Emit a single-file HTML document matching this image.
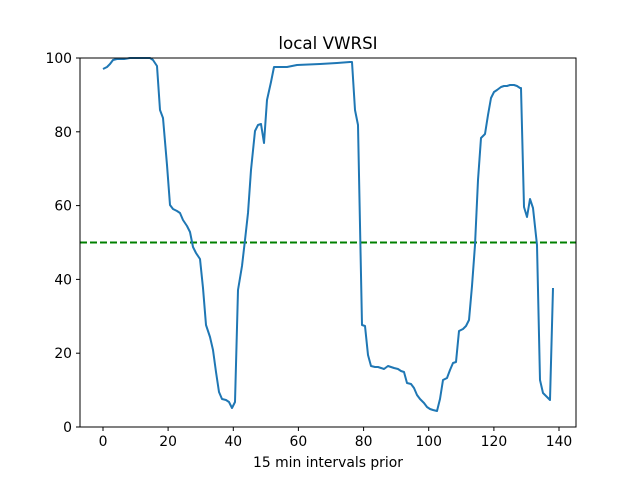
<!DOCTYPE html>
<html><head><meta charset="utf-8"><style>body{margin:0;background:#fff}svg{display:block}</style></head><body>
<svg width="640" height="480" xmlns="http://www.w3.org/2000/svg" font-family="DejaVu Sans, Liberation Sans, sans-serif">
<rect width="640" height="480" fill="#fff"/>
<text x="328" y="49" font-size="16.7" text-anchor="middle">local VWRSI</text>
<line x1="80" y1="242.5" x2="576" y2="242.5" stroke="#008000" stroke-width="2" stroke-dasharray="7,3"/>
<polyline fill="none" stroke="#1f77b4" stroke-width="2" stroke-linejoin="round" points="103,69 107,67 110,64 113,60 117,59 124,59 130,58 150,58 153,60 157,66 160,110 163,118 167,165 170,205 173,209 177,211 180,213 183,220 187,226 190,232 193,247 196,253 200,259 203,288 206,325 210,337 213,350 216,372 219,392 222,399 226,400 229,402 232,408 235,402 238,290 242,266 245,240 248,213 251,170 255,131 258,125 261,124 264,143 267,100 271,82 274,67 277,67 287,67 297,65 320,64 337,63 350,62 352,62 355,110 358,125 362,325 365,326 368,355 371,366 375,367 378,367 381,368 384,369 388,366 391,367 394,368 398,369 401,371 404,372 407,383 411,384 414,388 417,395 420,399 424,403 427,407 430,409 433,410 437,411 440,399 443,380 447,378 450,370 453,363 456,362 459,331 463,329 466,326 469,320 472,286 475,245 478,180 481,138 485,134 488,115 491,98 494,92 497,90 501,87 504,86 507,86 510,85 514,85 517,86 520,88 521,88 524,207 527,217 530,199 533,208 537,245 540,380 543,393 546,396 550,400 553,288"/>
<rect x="80" y="58" width="496" height="369" fill="none" stroke="#000" stroke-width="1"/>
<g stroke="#000" stroke-width="1">
<line x1="103" y1="427" x2="103" y2="431"/><line x1="168.1" y1="427" x2="168.1" y2="431"/><line x1="233.3" y1="427" x2="233.3" y2="431"/><line x1="298.4" y1="427" x2="298.4" y2="431"/><line x1="363.6" y1="427" x2="363.6" y2="431"/><line x1="428.7" y1="427" x2="428.7" y2="431"/><line x1="493.9" y1="427" x2="493.9" y2="431"/><line x1="559" y1="427" x2="559" y2="431"/>
<line x1="76" y1="427" x2="80" y2="427"/><line x1="76" y1="353.2" x2="80" y2="353.2"/><line x1="76" y1="279.4" x2="80" y2="279.4"/><line x1="76" y1="205.6" x2="80" y2="205.6"/><line x1="76" y1="131.8" x2="80" y2="131.8"/><line x1="76" y1="58" x2="80" y2="58"/>
</g>
<g font-size="13.9" text-anchor="middle">
<text x="103" y="446">0</text><text x="168.1" y="446">20</text><text x="233.3" y="446">40</text><text x="298.4" y="446">60</text><text x="363.6" y="446">80</text><text x="428.7" y="446">100</text><text x="493.9" y="446">120</text><text x="559" y="446">140</text>
</g>
<g font-size="13.9" text-anchor="end">
<text x="72" y="432">0</text><text x="72" y="358.2">20</text><text x="72" y="284.4">40</text><text x="72" y="210.6">60</text><text x="72" y="136.8">80</text><text x="72" y="63">100</text>
</g>
<text x="328" y="467" font-size="13.9" text-anchor="middle">15 min intervals prior</text>
</svg>
</body></html>
